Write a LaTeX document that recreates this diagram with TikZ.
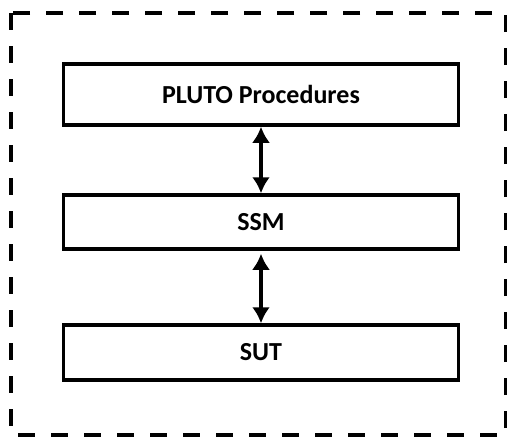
\documentclass[tikz,border=0pt]{standalone}
\usepackage{fontspec}
\setmainfont{Carlito}
\usetikzlibrary{arrows.meta, positioning}

\begin{document}
\begin{tikzpicture}[x=1pt, y=-1pt,
    layer/.style={draw, line width=3.5pt, minimum width=395pt, inner sep=0pt,
      font=\bfseries\fontsize{26}{30}\selectfont},
    link/.style={line width=4pt, {Latex[length=16pt,width=18pt]}-{Latex[length=16pt,width=18pt]}}]
  \useasboundingbox (0,0) rectangle (507,437);
  \draw[line width=4pt, dash pattern=on 17pt off 16pt] (11,13) rectangle (506,435);

  \node[layer, minimum height=61pt] (pluto) at (261,94.5) {PLUTO Procedures};
  \node[layer, minimum height=54pt] (ssm) at (261,222) {SSM};
  \node[layer, minimum height=55pt] (sut) at (261,352.5) {SUT};

  \draw[link] (pluto) -- (ssm);
  \draw[link, shorten <=3pt] (ssm) -- (sut);
\end{tikzpicture}
\end{document}
